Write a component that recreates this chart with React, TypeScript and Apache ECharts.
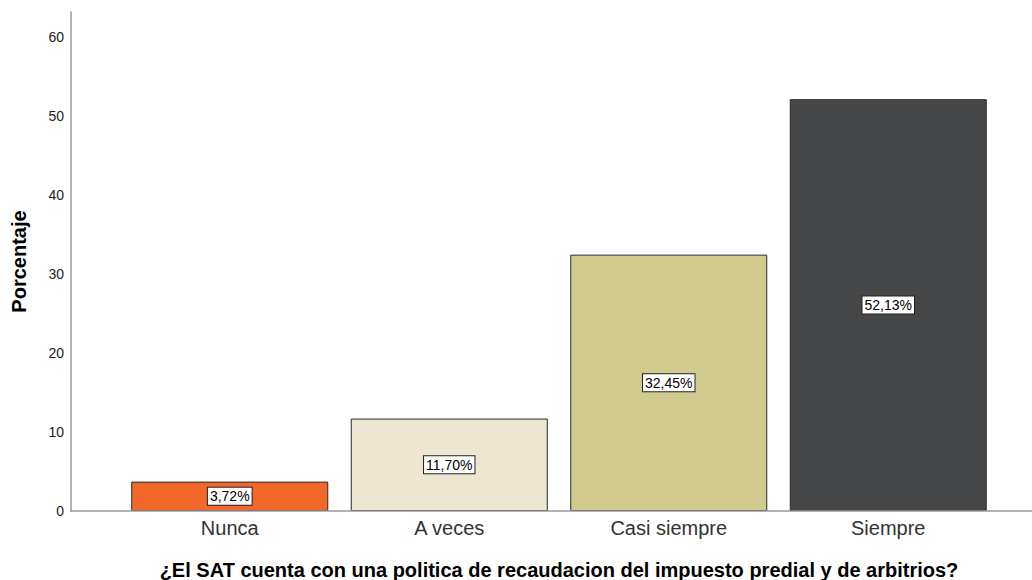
import React, { useEffect, useRef } from "react";
import * as echarts from "echarts";

const categories = ["Nunca", "A veces", "Casi siempre", "Siempre"];
const values = [3.72, 11.7, 32.45, 52.13];
const labels = ["3,72%", "11,70%", "32,45%", "52,13%"];
const colors = ["#F2672A", "#EDE6D2", "#D1CA8F", "#454648"];
const yTicks = [0, 10, 20, 30, 40, 50, 60];

const FONT = "'Liberation Sans', Arial, sans-serif";

export default function App() {
  const ref = useRef<HTMLDivElement>(null);
  useEffect(() => {
    document.body.style.margin = "0";
    const chart = echarts.init(ref.current!, null, { renderer: "svg", width: 1032, height: 580 });
    chart.setOption({
      animation: false,
      textStyle: { fontFamily: FONT },
      grid: { left: 120, right: 34, top: 12, bottom: 69, outerBoundsMode: "none", containLabel: false },
      graphic: [
        {
          type: "line",
          shape: { x1: 70, y1: 511, x2: 1032, y2: 511 },
          style: { stroke: "#9a9a9a", lineWidth: 1.5 },
          z: 10,
        },
      ],
      xAxis: {
        type: "category",
        data: categories,
        axisLine: { show: false },
        axisTick: { show: false },
        axisLabel: { fontSize: 20, color: "#333", margin: 7, fontFamily: FONT },
        name: "¿El SAT cuenta con una politica de recaudacion del impuesto predial y de arbitrios?",
        nameLocation: "middle",
        nameGap: 49,
        nameTextStyle: { fontSize: 20, lineHeight: 20, fontWeight: "bold", color: "#000", fontFamily: FONT },
      },
      yAxis: {
        type: "value",
        min: 0,
        max: 63.16,
        interval: 10,
        offset: 49,
        splitLine: { show: false },
        axisTick: { show: false },
        axisLine: { show: true, lineStyle: { color: "#9a9a9a", width: 1.5 } },
        axisLabel: {
          fontSize: 14,
          color: "#222",
          margin: 7,
          showMaxLabel: false,
          fontFamily: FONT,
          formatter: (v: number) => (yTicks.includes(v) ? String(v) : ""),
        },
        name: "Porcentaje",
        nameLocation: "middle",
        nameRotate: 90,
        nameGap: 42,
        nameTextStyle: { fontSize: 20, fontWeight: "bold", color: "#000", fontFamily: FONT },
      },
      series: [
        {
          type: "bar",
          barWidth: 197,
          data: values.map((v, i) => ({
            value: v,
            itemStyle: { color: colors[i], borderColor: "#2a2a2a", borderWidth: 1 },
            label: { formatter: labels[i] },
          })),
          label: {
            show: true,
            position: "inside",
            fontSize: 14,
            color: "#000",
            fontFamily: FONT,
            backgroundColor: "#fff",
            borderColor: "#222",
            borderWidth: 1,
            padding: [2, 2, 1, 2],
          },
        },
      ],
    });
    return () => chart.dispose();
  }, []);
  return <div ref={ref} style={{ width: 1032, height: 580 }} />;
}
